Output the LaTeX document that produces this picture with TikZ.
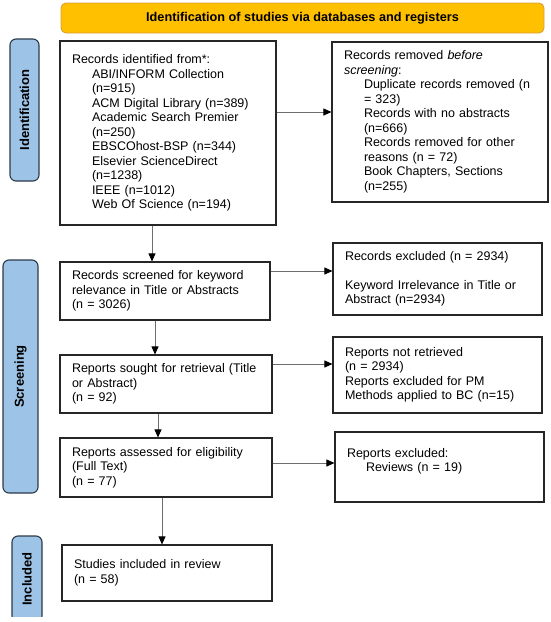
\documentclass[tikz,border=0pt]{standalone}
\usepackage{fontspec}
\setmainfont{Liberation Sans}
\usetikzlibrary{arrows.meta}
\definecolor{tabblue}{HTML}{9DC3E6}
\definecolor{tabedge}{HTML}{2B3A4A}
\definecolor{bannerfill}{HTML}{FFC000}
\definecolor{banneredge}{HTML}{D9A03A}
\definecolor{boxedge}{HTML}{262626}
\definecolor{arrowgray}{HTML}{6E6E6E}
\begin{document}
\begin{tikzpicture}[x=1pt,y=-1pt,
  box/.style={draw=boxedge, line width=1.1pt, fill=white, align=left, inner xsep=12pt, inner ysep=0pt,
    font=\fontsize{12.5}{14.5}\selectfont, anchor=center},
  tab/.style={draw=tabedge, line width=1.1pt, fill=tabblue, rounded corners=6pt, rotate=90, inner sep=0pt,
    font=\bfseries\fontsize{13}{15}\selectfont},
  banner/.style={draw=banneredge, line width=0.9pt, fill=bannerfill, rounded corners=5pt, inner sep=0pt,
    font=\bfseries\fontsize{12.7}{15}\selectfont},
  arr/.style={draw=arrowgray, line width=0.8pt, -{Triangle[length=8pt,width=7pt,color=black]}}
]
\useasboundingbox (0,0) rectangle (550,622);

% banner
\node[banner, minimum width=483pt, minimum height=30pt] (ban) at (302.5,18) {Identification of studies via databases and registers};

% side tabs
\node[tab, minimum width=142pt, minimum height=29pt] (tid) at (24.5,110) {Identification};
\node[tab, minimum width=233pt, minimum height=35pt] (tsc) at (20.5,376.5) {Screening};
\begin{scope}
\clip (0,530) rectangle (60,616);
\node[tab, minimum width=86pt, minimum height=30pt] (tin) at (27,579) {Included};
\end{scope}

% left column
\node[box, text width=192pt, minimum height=184pt] (b1) at (168,133) {Records identified from*:\\
\hspace*{20pt}ABI/INFORM Collection\\
\hspace*{20pt}(n=915)\\
\hspace*{20pt}ACM Digital Library (n=389)\\
\hspace*{20pt}Academic Search Premier\\
\hspace*{20pt}(n=250)\\
\hspace*{20pt}EBSCOhost-BSP (n=344)\\
\hspace*{20pt}Elsevier ScienceDirect\\
\hspace*{20pt}(n=1238)\\
\hspace*{20pt}IEEE (n=1012)\\
\hspace*{20pt}Web Of Science (n=194)};

\node[box, text width=186pt, minimum height=58pt] (b2) at (165,291) {Records screened for keyword\\relevance in Title or Abstracts\\(n = 3026)};
\node[box, text width=188pt, minimum height=58pt] (b3) at (166,384) {Reports sought for retrieval (Title\\or Abstract)\\(n = 92)};
\node[box, text width=188pt, minimum height=59pt] (b4) at (166,467.5) {Reports assessed for eligibility\\(Full Text)\\(n = 77)};
\node[box, text width=186pt, minimum height=56pt] (b5) at (167,573) {Studies included in review\\(n = 58)};

% right column
\node[box, text width=192pt, minimum height=160pt] (rm) at (440,122) {Records removed \textit{before}\\
\textit{screening}:\\
\hspace*{20pt}Duplicate records removed (n\\
\hspace*{20pt}= 323)\\
\hspace*{20pt}Records with no abstracts\\
\hspace*{20pt}(n=666)\\
\hspace*{20pt}Records removed for other\\
\hspace*{20pt}reasons (n = 72)\\
\hspace*{20pt}Book Chapters, Sections\\
\hspace*{20pt}(n=255)};
\node[box, text width=185pt, minimum height=72pt] (e1) at (437.5,279) {Records excluded (n = 2934)\\[14.5pt]Keyword Irrelevance in Title or\\Abstract (n=2934)};
\node[box, text width=185pt, minimum height=76pt] (e2) at (437.5,375) {Reports not retrieved\\(n = 2934)\\Reports excluded for PM\\Methods applied to BC (n=15)};
\node[box, text width=185pt, minimum height=70pt] (e3) at (439.5,467) {Reports excluded:\\\hspace*{19pt}Reviews (n = 19)\\\mbox{}};

% vertical arrows
\draw[arr] ([xshift=-16pt]b1.south) -- ([xshift=-13pt]b2.north);
\draw[arr] ([xshift=-10pt]b2.south) -- ([xshift=-11pt]b3.north);
\draw[arr] ([xshift=-8pt]b3.south) -- ([xshift=-8pt]b4.north);
\draw[arr] ([xshift=-4pt]b4.south) -- ([xshift=-5pt]b5.north);

% horizontal arrows
\draw[arr] ([yshift=21pt]b1.east) -- ([yshift=10pt]rm.west);
\draw[arr] ([yshift=20pt]b2.east) -- ([yshift=8pt]e1.west);
\draw[arr] ([yshift=20pt]b3.east) -- ([yshift=11pt]e2.west);
\draw[arr] ([yshift=4.5pt]b4.east) -- ([yshift=4pt]e3.west);
\end{tikzpicture}
\end{document}
